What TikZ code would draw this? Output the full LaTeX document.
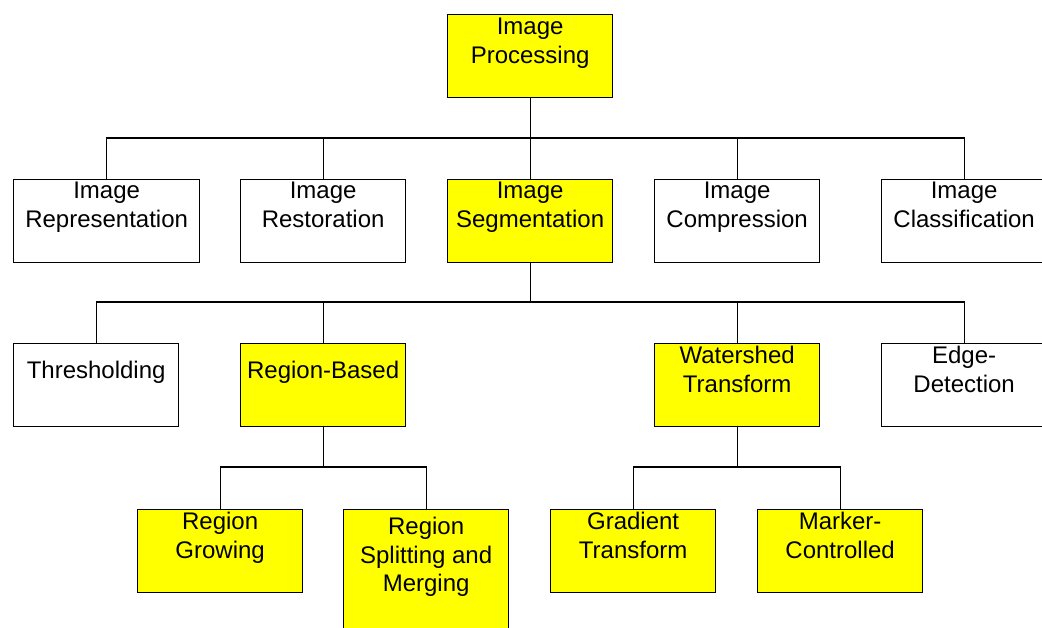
\documentclass[tikz,border=0pt]{standalone}
\usepackage{fontspec}
\setmainfont{Liberation Sans}
\definecolor{boxyellow}{RGB}{255,255,0}
\begin{document}
\begin{tikzpicture}[x=1pt,y=-1pt,
 box/.style={draw=black, line width=1.3pt, minimum width=165pt, minimum height=83pt, inner sep=0pt, anchor=north west},
 yel/.style={box, fill=boxyellow},
 wht/.style={box, fill=white},
 txt/.style={font=\fontsize{24}{28.5}\selectfont, align=center, anchor=north, inner sep=0pt},
 conn/.style={line width=1.1pt}]
\useasboundingbox (0,0) rectangle (1042,627);
\clip (0,0) rectangle (1042,627);
% level 1
\node[yel] (top) at (447,14) {};
% level 2
\node[wht, minimum width=186pt] (rep) at (13,179) {};
\node[wht] (res) at (240,179) {};
\node[yel] (seg) at (447,179) {};
\node[wht] (com) at (654,179) {};
\node[wht] (cla) at (881,179) {};
% level 3
\node[wht] (thr) at (13,343) {};
\node[yel] (reg) at (240,343) {};
\node[yel] (wat) at (654,343) {};
\node[wht] (edg) at (881,343) {};
% level 4
\node[yel] (gro) at (137,509) {};
\node[yel, minimum height=130pt] (spl) at (343,509) {};
\node[yel] (gra) at (550,509) {};
\node[yel] (mar) at (757,509) {};
% texts
\node[txt] (ttop) at ([yshift=-4pt]top.north) {Image\\Processing};
\node[txt] (trep) at ([yshift=-3pt]rep.north) {Image\\Representation};
\node[txt] (tres) at ([yshift=-3pt]res.north) {Image\\Restoration};
\node[txt] (tseg) at ([yshift=-3pt]seg.north) {Image\\Segmentation};
\node[txt] (tcom) at ([yshift=-3pt]com.north) {Image\\Compression};
\node[txt] (tcla) at ([yshift=-3pt]cla.north) {Image\\Classification};
\node[txt] (tthr) at ([yshift=-18pt]thr.north) {Thresholding};
\node[txt] (treg) at ([yshift=-18pt]reg.north) {Region-Based};
\node[txt] (twat) at ([yshift=-3pt]wat.north) {Watershed\\Transform};
\node[txt] (tedg) at ([yshift=-3pt]edg.north) {Edge-\\Detection};
\node[txt] (tgro) at ([yshift=-3pt]gro.north) {Region\\Growing};
\node[txt] (tspl) at ([yshift=-8pt]spl.north) {Region\\Splitting and\\Merging};
\node[txt] (tgra) at ([yshift=-3pt]gra.north) {Gradient\\Transform};
\node[txt] (tmar) at ([yshift=-3pt]mar.north) {Marker-\\Controlled};
% connectors
\coordinate (j1) at (top.south |- 0,138);
\coordinate (j2) at (seg.south |- 0,302);
\coordinate (j3) at (reg.south |- 0,467);
\coordinate (j4) at (wat.south |- 0,467);
\draw[conn] (top.south) -- (j1);
\foreach \c in {rep,res,seg,com,cla} \draw[conn] (j1) -| (\c.north);
\draw[conn] (seg.south) -- (j2);
\foreach \c in {thr,reg,wat,edg} \draw[conn] (j2) -| (\c.north);
\draw[conn] (reg.south) -- (j3);
\foreach \c in {gro,spl} \draw[conn] (j3) -| (\c.north);
\draw[conn] (wat.south) -- (j4);
\foreach \c in {gra,mar} \draw[conn] (j4) -| (\c.north);
\end{tikzpicture}
\end{document}
